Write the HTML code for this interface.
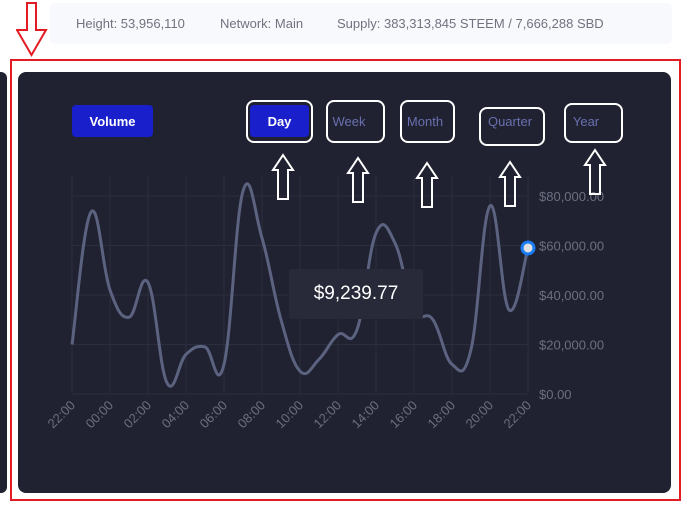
<!DOCTYPE html>
<html><head><meta charset="utf-8"><style>
body{margin:0;width:688px;height:506px;background:#fff;position:relative;overflow:hidden;font-family:"Liberation Sans",sans-serif}
.abs{position:absolute}
.btn{position:absolute;font-size:13px;display:flex;align-items:center;justify-content:center;border-radius:4px}
.ol{position:absolute;border:2px solid #fff;border-radius:8px;box-sizing:border-box}
</style></head><body>
<div class="abs" style="left:50px;top:3px;width:622px;height:41px;background:#f8f9fd;border-radius:5px;color:#70737f;font-size:13px">
<span class="abs" style="left:26px;top:13px">Height: 53,956,110</span>
<span class="abs" style="left:170px;top:13px">Network: Main</span>
<span class="abs" style="left:287px;top:13px">Supply: 383,313,845 STEEM / 7,666,288 SBD</span>
</div>
<svg class="abs" style="left:16px;top:2px" width="32" height="56"><path d="M11 1 H20 V28 H30 L15.5 53 L1 28 H11 Z" fill="none" stroke="#e31b23" stroke-width="2"/></svg>
<div class="abs" style="left:0;top:72px;width:7px;height:421px;background:#202231;border-radius:0 6px 6px 0"></div>
<div class="abs" style="left:10px;top:59px;width:667px;height:438px;border:2px solid #e31b23"></div>
<div class="abs" style="left:18px;top:72px;width:653px;height:421px;background:#202231;border-radius:8px"></div>
<div class="btn" style="left:72px;top:105px;width:81px;height:32px;background:#1a1fcc;color:#fff;font-weight:bold">Volume</div>
<div class="btn" style="left:250px;top:105px;width:59px;height:32px;background:#1a1fcc;color:#fff;font-weight:bold">Day</div>
<div class="ol" style="left:246px;top:100px;width:67px;height:43px"></div>
<div class="btn" style="left:327px;top:105px;width:44px;height:32px;color:#6a70b0">Week</div>
<div class="ol" style="left:326px;top:100px;width:59px;height:43px"></div>
<div class="btn" style="left:402px;top:105px;width:46px;height:32px;color:#6a70b0">Month</div>
<div class="ol" style="left:400px;top:100px;width:55px;height:43px"></div>
<div class="btn" style="left:482px;top:105px;width:56px;height:32px;color:#6a70b0">Quarter</div>
<div class="ol" style="left:479px;top:107px;width:66px;height:39px"></div>
<div class="btn" style="left:567px;top:105px;width:38px;height:32px;color:#6a70b0">Year</div>
<div class="ol" style="left:564px;top:103px;width:59px;height:40px"></div>
<svg class="abs" style="left:0;top:0" width="688" height="506" id="chart"></svg>
<div class="abs" style="left:289px;top:269px;width:134px;height:50px;background:#282a3a;border-radius:3px;color:#fff;font-size:19px;display:flex;align-items:center;justify-content:center">$9,239.77</div>
<script>
const hours=["22:00","23:00","00:00","01:00","02:00","03:00","04:00","05:00","06:00","07:00","08:00","09:00","10:00","11:00","12:00","13:00","14:00","15:00","16:00","17:00","18:00","19:00","20:00","21:00","22:00"];
const values=[20000,73500,42000,31000,45000,4500,16000,19000,12000,82000,63000,30000,9240,14000,24000,26000,65000,61000,34000,30000,12000,18000,76000,34000,59000];
const yTicks=[0,20000,40000,60000,80000];
const NS="http://www.w3.org/2000/svg";
const svg=document.getElementById('chart');
const x0=72,x1=528,yb=394,yt=196;
const X=i=>x0+(x1-x0)*i/(hours.length-1);
const Y=v=>yb-(yb-yt)*v/80000;
function mk(t,a){const e=document.createElementNS(NS,t);for(const k in a)e.setAttribute(k,a[k]);svg.appendChild(e);return e;}
yTicks.forEach(v=>{
 const l=mk('line',{x1:x0,x2:x1,y1:Y(v),y2:Y(v),stroke:'#2b2e3f','stroke-width':1});
 
 
 const t=mk('text',{x:539,y:Y(v)+5,fill:'#6b6f80','font-size':13,'font-family':'Liberation Sans, sans-serif'});
 t.textContent='$'+v.toLocaleString('en-US')+'.00';
 
 
});
mk('line',{x1:x0,x2:x0,y1:176,y2:yb,stroke:'#2b2e3f'});
hours.forEach((h,i)=>{
 if(i%2)return;
 const l=mk('line',{x1:X(i),x2:X(i),y1:176,y2:yb,stroke:'#2b2e3f'});
 
 
 const t=mk('text',{x:X(i)+4,y:406,fill:'#6b6f80','font-size':13,'text-anchor':'end','font-family':'Liberation Sans, sans-serif',transform:`rotate(-45 ${X(i)+4} 406)`});
 t.textContent=h;
 
 
});
let d='';const P=values.map((v,i)=>[X(i),Y(v)]);
d='M'+P[0];
for(let i=0;i<P.length-1;i++){const p0=P[i-1]||P[i],p1=P[i],p2=P[i+1],p3=P[i+2]||p2;const k=0.2;
 d+=` C${p1[0]+(p2[0]-p0[0])*k},${p1[1]+(p2[1]-p0[1])*k} ${p2[0]-(p3[0]-p1[0])*k},${p2[1]-(p3[1]-p1[1])*k} ${p2[0]},${p2[1]}`;}
const line=mk('path',{d:d,fill:'none',stroke:'#5c6380','stroke-width':3});


const last=P[P.length-1];
const dot=mk('circle',{cx:last[0],cy:last[1],r:6,fill:'#e0e0e0',stroke:'#1a7cf5','stroke-width':3});


// annotation arrows
[[283,155],[358,158],[427,163],[510,162],[595,150]].forEach(([cx,ty])=>{
 const a=mk('path',{d:`M${cx} ${ty} L${cx+10} ${ty+15} H${cx+5} V${ty+44} H${cx-5} V${ty+15} H${cx-10} Z`,fill:'none',stroke:'#fff','stroke-width':2});
 
 
});
</script>
</body></html>
